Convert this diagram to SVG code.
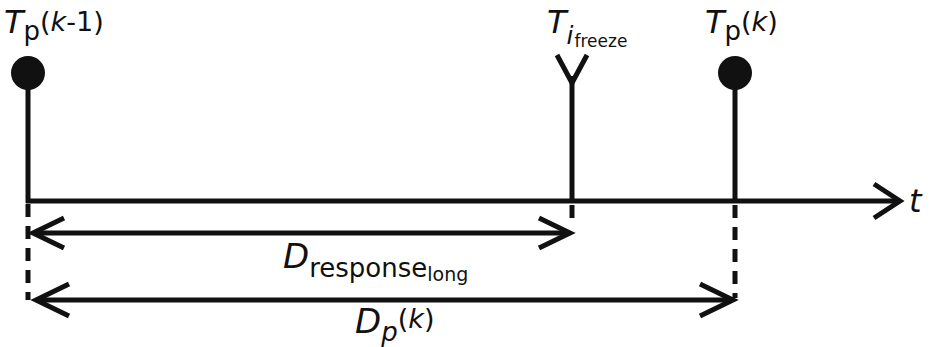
<svg xmlns="http://www.w3.org/2000/svg" width="930" height="347" viewBox="0 0 930 347">
<style>
.ln{stroke:#111;stroke-width:5;fill:none}
.dash{stroke:#111;stroke-width:5;fill:none;stroke-dasharray:13 9}
.hd{stroke:#111;stroke-width:5;fill:none;stroke-linecap:butt;stroke-linejoin:miter}
.dot{fill:#111}
text{font-family:"DejaVu Sans",sans-serif;fill:#111}
.it{font-style:italic}
</style>
<rect width="930" height="347" fill="#fff"/>
<g id="connectors">
<line class="ln" x1="26" y1="201" x2="898" y2="201"/>
<polyline class="hd" points="874,184 900,201 874,218"/>
<line class="dash" x1="28" y1="204" x2="28" y2="300"/>
<line class="dash" x1="572" y1="205" x2="572" y2="225"/>
<line class="dash" x1="735" y1="205" x2="735" y2="298"/>
<line class="ln" x1="34" y1="233" x2="569" y2="233"/>
<polyline class="hd" points="64,218 33,233 64,248"/>
<polyline class="hd" points="539,218 570,233 539,248"/>
<line class="ln" x1="37" y1="300" x2="730" y2="300"/>
<polyline class="hd" points="69,284 36,300 69,316"/>
<polyline class="hd" points="700,284 733,300 700,316"/>
</g>
<g id="tp_k_minus_1">
<line class="ln" x1="28" y1="73" x2="28" y2="203"/>
<circle class="dot" cx="28" cy="73" r="17"/>
<text x="4" y="33"><tspan class="it" font-size="32">T</tspan><tspan font-size="26" dy="7">p</tspan><tspan font-size="27" dy="-9">(</tspan><tspan class="it" font-size="27">k</tspan><tspan font-size="27">-1)</tspan></text>
</g>
<g id="ti_freeze">
<line class="ln" x1="572" y1="76" x2="572" y2="203"/>
<polyline class="hd" points="557,55 572,83 587,55"/>
<text x="547" y="33"><tspan class="it" font-size="32">T</tspan><tspan class="it" font-size="25" dx="0" dy="11">i</tspan><tspan font-size="17" dx="1" dy="3">freeze</tspan></text>
</g>
<g id="tp_k">
<line class="ln" x1="735" y1="73" x2="735" y2="203"/>
<circle class="dot" cx="735" cy="73" r="17"/>
<text x="705" y="33"><tspan class="it" font-size="32">T</tspan><tspan font-size="26" dy="7">p</tspan><tspan font-size="27" dy="-9">(</tspan><tspan class="it" font-size="27">k</tspan><tspan font-size="27">)</tspan></text>
</g>
<g id="t_label">
<text x="909" y="212" class="it" font-size="32">t</text>
</g>
<g id="d_response">
<text x="283" y="268"><tspan class="it" font-size="34">D</tspan><tspan font-size="26" dy="9">response</tspan><tspan font-size="19" dy="4">long</tspan></text>
</g>
<g id="d_p">
<text x="355" y="333"><tspan class="it" font-size="34">D</tspan><tspan class="it" font-size="26" dy="8">p</tspan><tspan font-size="27" dy="-13">(</tspan><tspan class="it" font-size="27">k</tspan><tspan font-size="27">)</tspan></text>
</g>
</svg>
